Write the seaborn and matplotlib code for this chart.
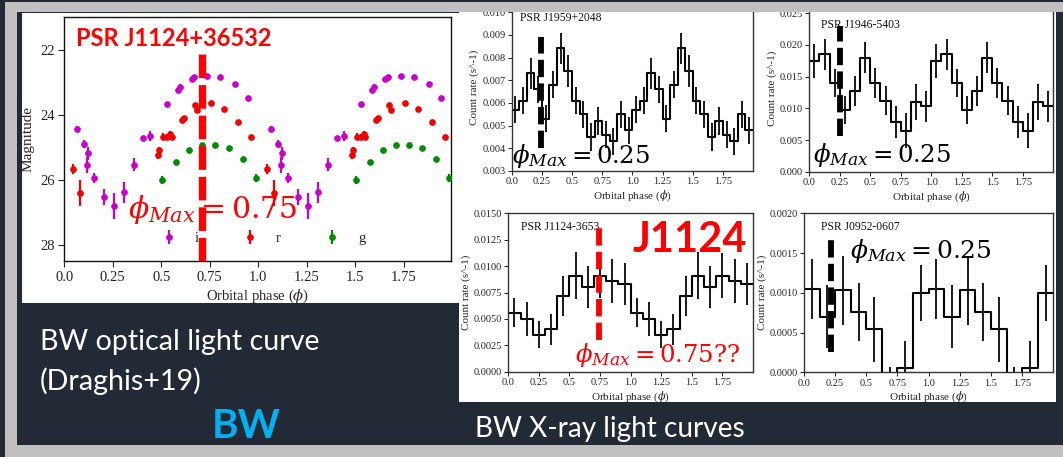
import numpy as np
import matplotlib
matplotlib.use("Agg")
import matplotlib.pyplot as plt
from matplotlib.patches import Rectangle
import seaborn as sns
import pandas as pd

# ------------------------------------------------------------------ data
# optical light curve of PSR J1124-3653 (one orbital cycle, shown twice)
i_phase = [0.064, 0.100, 0.115, 0.124, 0.153, 0.203, 0.256, 0.306, 0.359, 0.407,
           0.443, 0.532, 0.587, 0.596, 0.656, 0.670, 0.738, 0.804, 0.878, 0.945]
i_mag = [24.44, 24.89, 25.54, 25.18, 25.95, 26.53, 26.82, 26.39, 25.54, 24.72,
         24.65, 23.67, 23.25, 23.13, 22.89, 22.85, 22.80, 22.85, 23.06, 23.49]
i_err = [0.10, 0.12, 0.25, 0.20, 0.15, 0.25, 0.40, 0.33, 0.20, 0.06,
         0.15, 0.06, 0.08, 0.08, 0.05, 0.05, 0.05, 0.05, 0.05, 0.05]
r_phase = [0.046, 0.081, 0.484, 0.488, 0.507, 0.532, 0.544, 0.553, 0.606, 0.616,
           0.673, 0.685, 0.756, 0.823, 0.895, 0.963]
r_mag = [25.67, 26.41, 25.23, 25.08, 24.67, 24.67, 24.58, 24.67, 24.15, 24.10,
         23.69, 23.85, 23.64, 23.83, 24.23, 24.69]
r_err = [0.15, 0.40, 0.12, 0.10, 0.12, 0.08, 0.08, 0.06, 0.08, 0.05,
         0.06, 0.06, 0.04, 0.04, 0.04, 0.05]
g_phase = [0.505, 0.575, 0.642, 0.709, 0.778, 0.847, 0.919, 0.986]
g_mag = [26.00, 25.46, 25.08, 24.92, 24.93, 25.03, 25.36, 25.95]
g_err = [0.12, 0.06, 0.06, 0.05, 0.05, 0.05, 0.06, 0.12]
band_labels = ["i", "r", "g"]
band_colors = ["#c800c8", "#f00000", "#008a00"]

# X-ray folded light curves (one cycle of bins, shown twice)
j1959_rate = [0.0057, 0.0061, 0.0073, 0.0066, 0.0053, 0.0068, 0.0084, 0.0074,
              0.0061, 0.0055, 0.0045, 0.0052, 0.0046, 0.0043, 0.0055, 0.0048]
j1959_err = [0.0006, 0.0006, 0.0007, 0.0006, 0.0006, 0.0006, 0.0007, 0.0007,
             0.0006, 0.0006, 0.0006, 0.0006, 0.0006, 0.0006, 0.0006, 0.0006]
j1946_rate = [0.0175, 0.0185, 0.0140, 0.0097, 0.0127, 0.0180, 0.0140, 0.0112,
              0.0078, 0.0065, 0.0110, 0.0103]
j1946_err = [0.0027, 0.0025, 0.0022, 0.0022, 0.0024, 0.0025, 0.0024, 0.0023,
             0.0025, 0.0027, 0.0028, 0.0024]
j1124_rate = [0.0056, 0.0050, 0.0035, 0.0040, 0.0072, 0.0091, 0.0080, 0.0091,
              0.0086, 0.0083]
j1124_err = [0.0014, 0.0016, 0.0013, 0.0015, 0.0019, 0.0022, 0.0020, 0.0021,
             0.0021, 0.0020]
j0952_rate = [0.00105, 0.00070, 0.00103, 0.00076, 0.00054, -0.00030, 0.00005, 0.00100]
j0952_err = [0.00038, 0.00040, 0.00043, 0.00036, 0.00041, 0.00037, 0.00035, 0.00035]

phase_ticks = [0.0, 0.25, 0.5, 0.75, 1.0, 1.25, 1.5, 1.75]
phase_ticklabels = ["0.0", "0.25", "0.5", "0.75", "1.0", "1.25", "1.5", "1.75"]
mag_ticks = [22, 24, 26, 28]

xray_names = ["PSR J1959+2048", "PSR J1946-5403", "PSR J1124-3653", "PSR J0952-0607"]
xray_yticks = [
    [0.003, 0.004, 0.005, 0.006, 0.007, 0.008, 0.009, 0.010],
    [0.000, 0.005, 0.010, 0.015, 0.020, 0.025],
    [0.0000, 0.0025, 0.0050, 0.0075, 0.0100, 0.0125, 0.0150],
    [0.0000, 0.0005, 0.0010, 0.0015, 0.0020],
]
xray_yticklabels = [
    ["0.003", "0.004", "0.005", "0.006", "0.007", "0.008", "0.009", "0.010"],
    ["0.000", "0.005", "0.010", "0.015", "0.020", "0.025"],
    ["0.0000", "0.0025", "0.0050", "0.0075", "0.0100", "0.0125", "0.0150"],
    ["0.0000", "0.0005", "0.0010", "0.0015", "0.0020"],
]
xray_ylims = [(0.003, 0.01035), (0.0, 0.0263), (0.0, 0.015), (0.0, 0.002)]
phi_max_marked = [0.24, 0.249, 0.743, 0.215]
phi_max_text = [r"$\phi_{Max} = 0.25$", r"$\phi_{Max} = 0.25$",
                r"$\phi_{Max} = 0.75??$", r"$\phi_{Max} = 0.25$"]
optical_phi_text = r"$\phi_{Max} = 0.75$"
optical_phi_max = 0.711

# ------------------------------------------------------------------ style
sns.set_theme(style="ticks")
plt.rcParams["font.family"] = ["Liberation Serif", "DejaVu Serif"]
plt.rcParams["mathtext.fontset"] = "dejavuserif"
plt.rcParams["lines.scale_dashes"] = False
plt.rcParams["xtick.direction"] = "out"
plt.rcParams["ytick.direction"] = "out"

W, H = 1063, 457
fig = plt.figure(figsize=(W / 100, H / 100), dpi=100)
fig.patch.set_facecolor("#c0c0c0")

SLIDE = "#222a35"
SANS = ["Lato", "DejaVu Sans"]


def fbox(l, t, r, b):
    return [l / W, 1 - b / H, (r - l) / W, (b - t) / H]


def rect(l, t, r, b, color, z):
    fig.add_artist(Rectangle((l / W, 1 - b / H), (r - l) / W, (b - t) / H,
                             transform=fig.transFigure, facecolor=color,
                             edgecolor="none", zorder=z))


def ftext(x, y, s, **kw):
    fig.text(x / W, 1 - y / H, s, **kw)


# slide background and picture panels
rect(17, 12, W, 445, SLIDE, -20)
rect(0, 0, 5, H, SLIDE, 20)
rect(0, 0, W, 1.5, SLIDE, 20)
rect(22, 12.7, 461, 303, "white", -10)
rect(459, 12, 1056, 402, "white", -10)

# ------------------------------------------------------------------ optical panel
ax = fig.add_axes(fbox(64.3, 17.3, 451, 261))
ax.set_facecolor("white")
handles = []
for ph, mg, er, lab, col in zip([i_phase, r_phase, g_phase], [i_mag, r_mag, g_mag],
                                [i_err, r_err, g_err], band_labels, band_colors):
    ph2 = np.concatenate([ph, np.asarray(ph) + 1.0])
    mg2 = np.concatenate([mg, mg])
    er2 = np.concatenate([er, er])
    h = ax.errorbar(ph2, mg2, yerr=er2, fmt="o", ms=3.8, color=col, ecolor=col,
                    elinewidth=1.6, capsize=0, label=lab, zorder=3)
    handles.append(h)
ax.set_xlim(0, 1.994)
ax.set_ylim(28.5, 21.0)
ax.set_xticks(phase_ticks)
ax.set_xticklabels(phase_ticklabels)
ax.set_yticks(mag_ticks)
ax.tick_params(labelsize=10.5, length=4, width=0.8, pad=3, colors="#222222")
ax.set_xlabel(r"Orbital phase ($\phi$)", fontsize=10.5, labelpad=3)
ax.set_ylabel("Magnitude", fontsize=11, labelpad=4)
for s in ax.spines.values():
    s.set_linewidth(1.0)
    s.set_color("#111111")
ax.axvline(optical_phi_max, ymin=0.0, ymax=0.87, color="#ff0000", lw=5.3,
           dashes=(17, 5), zorder=5)
leg = ax.legend(handles=handles, labels=band_labels, ncol=3, frameon=False,
                loc="center left", bbox_to_anchor=(0.232, 0.092), borderaxespad=0,
                borderpad=0, handlelength=2, handletextpad=0.8, columnspacing=2.5,
                fontsize=10.5)
ax.text(0.03, 0.915, "PSR J1124+36532", transform=ax.transAxes, color="#ff0000",
        fontsize=17, fontweight="bold", family=SANS, ha="left", va="center", zorder=6)
ftext(128, 218, optical_phi_text, color="#ff0000", fontsize=21.5,
      ha="left", va="baseline", zorder=6)

# ------------------------------------------------------------------ X-ray panels
xray_boxes = [(511.7, 4.2, 753, 171), (809.3, 5, 1053.3, 171.7),
              (508.3, 213.3, 753, 371.7), (804, 213.3, 1053.3, 372.3)]
xray_rates = [j1959_rate, j1946_rate, j1124_rate, j0952_rate]
xray_errs = [j1959_err, j1946_err, j1124_err, j0952_err]
title_pos = [(0.034, 0.92), (0.048, 0.88), (0.052, 0.913), (0.068, 0.913)]
line_colors = ["black", "black", "#ff0000", "black"]
line_ranges = [(0.0040, 0.0089), (0.0057, 0.0230), (0.0030, 0.0137), (0.00025, 0.00172)]
phi_text_pos = [(512, 163, "black"), (813, 162, "black"), (575, 362, "#ff0000"),
                (850, 258, "black")]
phi_text_size = [17.6, 17.6, 17.6, 18.0]

for k in range(4):
    axx = fig.add_axes(fbox(*xray_boxes[k]))
    axx.set_facecolor("white")
    rate = np.asarray(xray_rates[k])
    err = np.asarray(xray_errs[k])
    n = len(rate)
    edges = np.linspace(0, 2, 2 * n + 1)
    vals = np.concatenate([rate, rate])
    errs = np.concatenate([err, err])
    centers = 0.5 * (edges[:-1] + edges[1:])
    df = pd.DataFrame({"phase": edges, "rate": np.append(vals, vals[-1])})
    sns.lineplot(data=df, x="phase", y="rate", drawstyle="steps-post", color="black",
                 lw=1.5, estimator=None, sort=False, ax=axx)
    axx.errorbar(centers, vals, yerr=errs, fmt="none", ecolor="#1a1a1a",
                 elinewidth=1.4, capsize=0)
    axx.set_xlim(0, 2.0)
    axx.set_ylim(*xray_ylims[k])
    axx.set_xticks(phase_ticks)
    axx.set_xticklabels(phase_ticklabels)
    axx.set_yticks(xray_yticks[k])
    axx.set_yticklabels(xray_yticklabels[k])
    axx.tick_params(labelsize=7.5, length=3, width=0.7, pad=1.5, colors="#222222")
    axx.set_xlabel(r"Orbital phase ($\phi$)", fontsize=8, labelpad=1.5)
    axx.set_ylabel("Count rate (s^-1)", fontsize=8, labelpad=2)
    for s in axx.spines.values():
        s.set_linewidth(1.0)
        s.set_color("#333333")
    tx, ty = title_pos[k]
    axx.text(tx, ty, xray_names[k], transform=axx.transAxes, fontsize=8.4,
             ha="left", va="center", color="#111111", zorder=4)
    y0, y1 = xray_ylims[k]
    lo, hi = line_ranges[k]
    axx.axvline(phi_max_marked[k], ymin=(lo - y0) / (y1 - y0), ymax=(hi - y0) / (y1 - y0),
                color=line_colors[k], lw=4.2, dashes=(12.5, 4.5), zorder=5)
    px, py, pc = phi_text_pos[k]
    ftext(px, py, phi_max_text[k], color=pc, fontsize=phi_text_size[k], ha="left",
          va="baseline", zorder=6)

# big J1124 label
ftext(633, 252, "J1124", color="#ff0000", fontsize=30, fontweight="bold",
      family=SANS, ha="left", va="baseline", zorder=6)

# ------------------------------------------------------------------ slide text
ftext(40, 350, "BW optical light curve", color="white", fontsize=20.6,
      family=SANS, ha="left", va="baseline")
ftext(40, 390, "(Draghis+19)", color="white", fontsize=20.6,
      family=SANS, ha="left", va="baseline")
ftext(212, 438, "BW", color="#00b0f0", fontsize=29, fontweight="bold",
      family=SANS, ha="left", va="baseline")
ftext(475, 437, "BW X-ray light curves", color="white", fontsize=20.2,
      family=SANS, ha="left", va="baseline")

# gray frame band over the top of the pictures
rect(5, 1.5, W, 12, "#c0c0c0", 15)

fig.savefig("out.png", dpi=100, facecolor=fig.get_facecolor())
